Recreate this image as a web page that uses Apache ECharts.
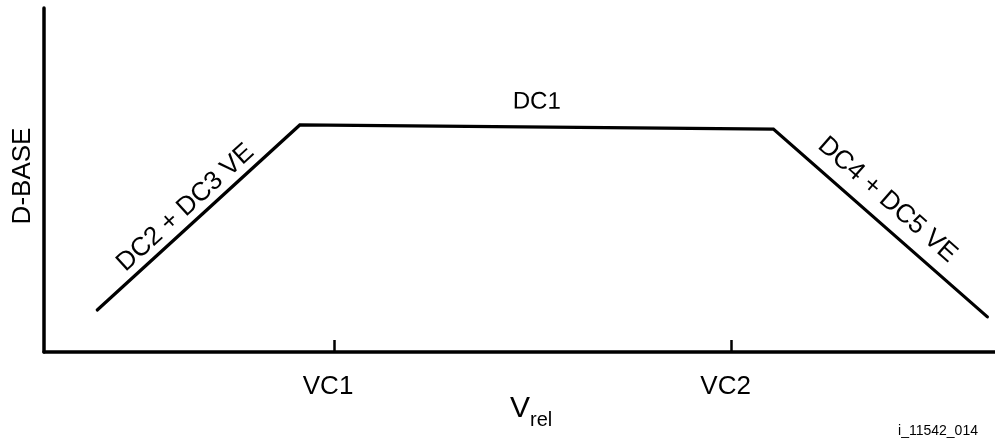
<!DOCTYPE html>
<html>
<head>
<meta charset="utf-8">
<script src="https://cdn.jsdelivr.net/npm/echarts@6/dist/echarts.min.js"></script>
<style>
html,body{margin:0;padding:0;background:#fff;}
#chart{width:995px;height:439px;}
</style>
</head>
<body>
<div id="chart"></div>
<script>
// Data (abstract units, 0..100 on both axes)
const vrelValues = [5.6, 26.9, 76.7, 99.2];
const dbaseValues = [12.2, 66.0, 64.8, 10.2];
const tickValues = [30.5, 72.3];
const tickLabels = ['VC1', 'VC2'];
const segmentLabels = ['DC2 + DC3 VE', 'DC1', 'DC4 + DC5 VE'];
const footnote = 'i_11542_014';

const FONT = '"Liberation Sans", Arial, Helvetica, sans-serif';
const chart = echarts.init(document.getElementById('chart'), null, {renderer: 'canvas'});

const lineData = vrelValues.map((x, i) => [x, dbaseValues[i]]);

chart.setOption({
  animation: false,
  backgroundColor: '#fff',
  grid: {left: 44, right: 0, top: 8, bottom: 87, containLabel: false},
  xAxis: {
    type: 'value', min: 0, max: 100,
    axisLine: {show: true, onZero: false, lineStyle: {color: '#000', width: 3.5}},
    axisTick: {show: true, inside: true, length: 12, customValues: tickValues,
               lineStyle: {color: '#000', width: 2.5}},
    axisLabel: {show: true, customValues: tickValues, margin: 22,
                color: '#000', fontSize: 26, fontFamily: FONT,
                padding: [0, 12, 0, 0],
                formatter: v => tickLabels[tickValues.indexOf(v)] || ''},
    splitLine: {show: false}
  },
  yAxis: {
    type: 'value', min: 0, max: 100,
    axisLine: {show: true, onZero: false, lineStyle: {color: '#000', width: 3.5}},
    axisTick: {show: false},
    axisLabel: {show: false},
    splitLine: {show: false}
  },
  series: [{
    type: 'line',
    data: lineData,
    symbol: 'none',
    lineStyle: {color: '#000', width: 3.2, cap: 'round', join: 'miter'}
  }]
});

// Annotation labels positioned relative to the data line
const px = lineData.map(p => chart.convertToPixel({gridIndex: 0}, p));
function segLabel(i, text, normalOff, alongOff) {
  const a = px[i], b = px[i + 1];
  const dx = b[0] - a[0], dy = b[1] - a[1];
  const len = Math.hypot(dx, dy);
  const ux = dx / len, uy = dy / len;
  // upward normal
  let nx = uy, ny = -ux;
  if (ny > 0) { nx = -nx; ny = -ny; }
  const mx = (a[0] + b[0]) / 2 + ux * alongOff + nx * normalOff;
  const my = (a[1] + b[1]) / 2 + uy * alongOff + ny * normalOff;
  return {
    type: 'text', x: mx, y: my, rotation: -Math.atan2(dy, dx),
    style: {text: text, font: '26px ' + FONT, fill: '#000',
            textAlign: 'center', textVerticalAlign: 'middle', align: 'center', verticalAlign: 'middle'}
  };
}
const dc1 = segLabel(1, segmentLabels[1], 25, 0);
dc1.style.font = '24px ' + FONT;

chart.setOption({
  graphic: [
    segLabel(0, segmentLabels[0], 16, -3),
    dc1,
    segLabel(2, segmentLabels[2], 22, -10),
    {type: 'text', x: 23, y: 176, rotation: Math.PI / 2,
     style: {text: 'D-BASE', font: '26px ' + FONT, fill: '#000',
             textAlign: 'center', textVerticalAlign: 'middle', align: 'center', verticalAlign: 'middle'}},
    {type: 'text', x: 510, y: 409,
     style: {text: 'V', font: '30px ' + FONT, fill: '#000',
             textAlign: 'left', textVerticalAlign: 'middle', align: 'left', verticalAlign: 'middle'}},
    {type: 'text', x: 530, y: 420,
     style: {text: 'rel', font: '20px ' + FONT, fill: '#000',
             textAlign: 'left', textVerticalAlign: 'middle', align: 'left', verticalAlign: 'middle'}},
    {type: 'text', x: 938, y: 431,
     style: {text: footnote, font: '14px ' + FONT, fill: '#000',
             textAlign: 'center', textVerticalAlign: 'middle', align: 'center', verticalAlign: 'middle'}}
  ]
});
</script>
</body>
</html>
